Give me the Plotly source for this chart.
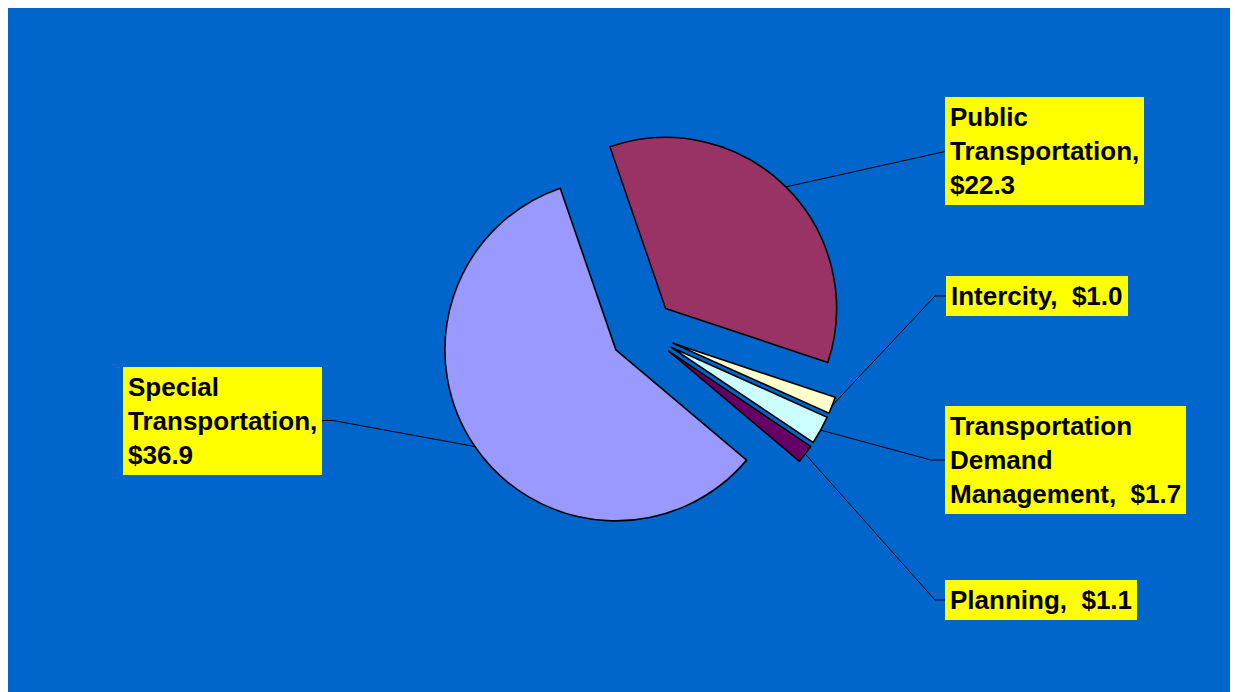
import math
import plotly.graph_objects as go

# ---- data ----
categories = ["Public Transportation", "Intercity", "Transportation Demand Management",
              "Planning", "Special Transportation"]
values = [22.3, 1.0, 1.7, 1.1, 36.9]
label_texts = ["Public<br>Transportation,<br>$22.3",
               "Intercity,\u00a0 $1.0",
               "Transportation<br>Demand<br>Management,\u00a0 $1.7",
               "Planning,\u00a0 $1.1",
               "Special<br>Transportation,<br>$36.9"]
colors = ["#993366", "#FFFFCC", "#CCFFFF", "#660066", "#9999FF"]

# ---- layout geometry (page pixels) ----
W, H = 1238, 684             # figure size
OX, OY = 8, 8                # page offset of the figure (body margin)
CX, CY = 642.7, 331.5        # pie centre (page px)
R = 171.0                    # pie radius
PULL = 0.19
ROTATION = -19
HALF = R * (1 + PULL)

# label boxes: (side, x edge, y middle, elbow offset)  (page px)
label_pos = [("left", 945, 151.5, 0),
             ("left", 946, 296, 11),
             ("left", 945, 460, 14),
             ("left", 945, 600, 10),
             ("right", 322, 420.5, 11)]

def px(x):
    return (x - OX) / W

def py(y):
    return 1 - (y - OY) / H

fig = go.Figure()
fig.add_trace(go.Pie(
    labels=categories, values=values, sort=False, direction="clockwise",
    rotation=ROTATION, pull=[PULL] * len(values),
    marker=dict(colors=colors, line=dict(color="black", width=1.6)),
    textinfo="none", hoverinfo="label+value", showlegend=False,
    domain=dict(x=[px(CX - HALF), px(CX + HALF)], y=[py(CY + HALF), py(CY - HALF)]),
))

shapes = []
annotations = []
total = sum(values)
cum = 0.0
for v, txt, (side, xe, ym, elbow) in zip(values, label_texts, label_pos):
    mid = ROTATION + (cum + v / 2) / total * 360
    cum += v
    a = math.radians(mid)
    ax = CX + HALF * math.sin(a)
    ay = CY - HALF * math.cos(a)
    ex = xe - elbow if side == "left" else xe + elbow
    path = f"M {px(ax)},{py(ay)} L {px(ex)},{py(ym)} L {px(xe)},{py(ym)}"
    shapes.append(dict(type="path", xref="paper", yref="paper", path=path,
                       line=dict(color="black", width=1)))
    annotations.append(dict(
        text="<b>" + txt + "</b>", xref="paper", yref="paper",
        x=px(xe), y=py(ym), xanchor=side,
        yanchor="middle", align="left", showarrow=False,
        bgcolor="#FFFF00", borderpad=5, borderwidth=0,
        font=dict(family="Liberation Sans, Arial", size=26, color="black"),
    ))

fig.update_layout(
    width=W, height=H, margin=dict(l=0, r=0, t=0, b=0),
    paper_bgcolor="#0066CC", shapes=shapes, annotations=annotations,
)
fig.write_html("out.html", post_script="document.body.style.overflow='hidden';")
